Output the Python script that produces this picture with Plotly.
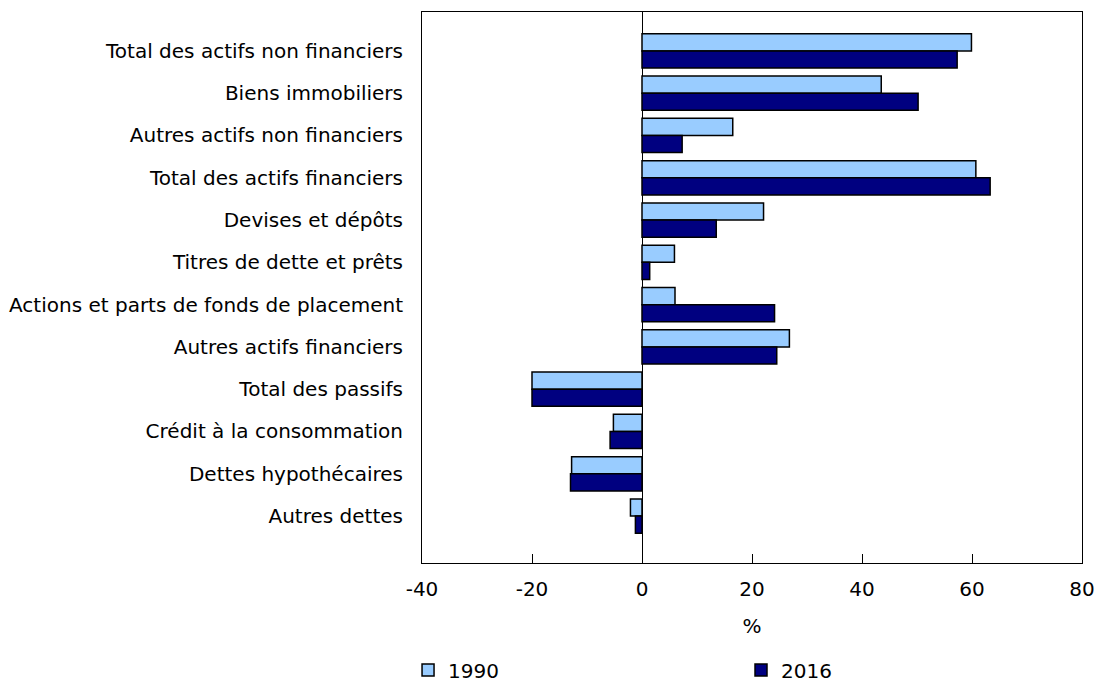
import plotly.graph_objects as go

categories = [
    "Total des actifs non financiers",
    "Biens immobiliers",
    "Autres actifs non financiers",
    "Total des actifs financiers",
    "Devises et dépôts",
    "Titres de dette et prêts",
    "Actions et parts de fonds de placement",
    "Autres actifs financiers",
    "Total des passifs",
    "Crédit à la consommation",
    "Dettes hypothécaires",
    "Autres dettes",
]
values_1990 = [59.9, 43.5, 16.5, 60.7, 22.1, 5.9, 6.0, 26.8, -20.0, -5.2, -12.8, -2.1]
values_2016 = [57.3, 50.2, 7.3, 63.3, 13.5, 1.4, 24.1, 24.5, -20.0, -5.8, -13.0, -1.2]
x_ticks = [-40, -20, 0, 20, 40, 60, 80]

font_family = "DejaVu Sans, Verdana, sans-serif"
FS = 20

fig = go.Figure()
fig.add_trace(go.Bar(
    y=categories, x=values_1990, name="1990", orientation="h",
    marker=dict(color="#99CCFF", line=dict(color="#000000", width=1.5)),
    legend="legend",
))
fig.add_trace(go.Bar(
    y=categories, x=values_2016, name="2016", orientation="h",
    marker=dict(color="#000080", line=dict(color="#000000", width=1.5)),
    legend="legend2",
))

legend_common = dict(
    orientation="h", xref="container", xanchor="left",
    yref="container", y=0.019, yanchor="middle",
    font=dict(size=FS), itemclick=False, bgcolor="rgba(0,0,0,0)",
)

fig.update_layout(
    width=1096, height=683,
    margin=dict(l=422, r=14, t=12, b=120, autoexpand=False),
    paper_bgcolor="white", plot_bgcolor="white",
    barmode="group", bargap=0.19, bargroupgap=0,
    font=dict(family=font_family, size=FS, color="#000000"),
    showlegend=True,
    legend=dict(x=0.3723, **legend_common),
    legend2=dict(x=0.6761, **legend_common),
    xaxis=dict(
        range=[-40, 80], tickvals=x_ticks, ticktext=[str(v) for v in x_ticks],
        ticks="inside", ticklen=9, tickcolor="#000000", tickwidth=1,
        ticklabelstandoff=8, automargin=False,
        showgrid=False, zeroline=True, zerolinecolor="#000000", zerolinewidth=1,
        showline=True, linecolor="#000000", linewidth=1, mirror=True,
        title=dict(text="%", standoff=18, font=dict(size=FS)),
    ),
    yaxis=dict(
        categoryorder="array", categoryarray=categories,
        range=[12.11, -0.92], automargin=False,
        showgrid=False, ticks="", ticklabelstandoff=14,
        showline=True, linecolor="#000000", linewidth=1, mirror=True,
    ),
)

fig.write_html("out.html", config={"displayModeBar": False},
               post_script="document.body.style.margin='0';")
